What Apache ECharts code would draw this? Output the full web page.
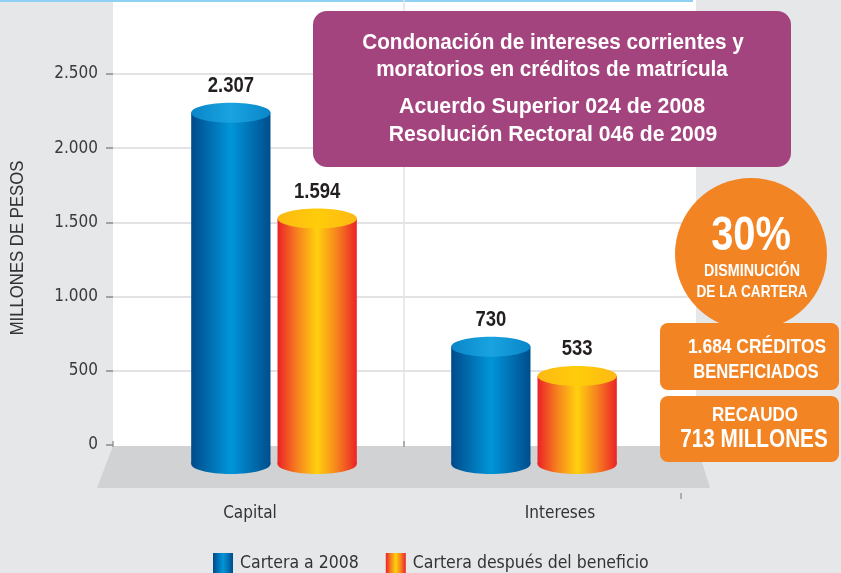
<!DOCTYPE html>
<html>
<head>
<meta charset="utf-8">
<script src="https://cdn.jsdelivr.net/npm/echarts@6/dist/echarts.min.js"></script>
<style>
  html, body { margin: 0; padding: 0; background: #e6e7e9; }
  #chart { width: 841px; height: 573px; }
</style>
</head>
<body>
<div id="chart"></div>
<script>
// Portfolio before and after the interest write-off (millions of pesos)
const categories = ['Capital', 'Intereses'];
const seriesNames = ['Cartera a 2008', 'Cartera después del beneficio'];
const cartera2008 = [2307, 730];
const carteraDespues = [1594, 533];
const yTicks = [0, 500, 1000, 1500, 2000, 2500];

const FONT = "'DejaVu Sans Condensed', 'Liberation Sans', sans-serif";
const HEAD = "'Liberation Sans', Arial, sans-serif";   // squeezed horizontally for a condensed look

function fmtMiles(v) {
  return String(v).replace(/\B(?=(\d{3})+(?!\d))/g, '.');
}

// condensed text element: bold/regular Liberation Sans narrowed with scaleX
function ctext(x, y, str, size, sx, bold, color, z) {
  return {
    type: 'text', x: x, y: y, scaleX: sx, z: z || 11,
    style: {
      text: str, x: 0, y: 0, align: 'center', verticalAlign: 'middle',
      font: (bold ? 'bold ' : '') + size + 'px ' + HEAD, fill: color || '#ffffff'
    }
  };
}

const blueSide = new echarts.graphic.LinearGradient(0, 0, 1, 0, [
  { offset: 0, color: '#004a8a' },
  { offset: 0.5, color: '#0096da' },
  { offset: 1, color: '#004d8d' }
]);
const blueTop = new echarts.graphic.LinearGradient(0, 0, 1, 0, [
  { offset: 0, color: '#0a86c8' },
  { offset: 0.5, color: '#19a3e0' },
  { offset: 1, color: '#0a86c8' }
]);
const warmSide = new echarts.graphic.LinearGradient(0, 0, 1, 0, [
  { offset: 0, color: '#ec2227' },
  { offset: 0.25, color: '#f6821f' },
  { offset: 0.5, color: '#ffd10d' },
  { offset: 0.75, color: '#f6821f' },
  { offset: 1, color: '#ec2227' }
]);
const warmTop = new echarts.graphic.LinearGradient(0, 0, 1, 0, [
  { offset: 0, color: '#fdb913' },
  { offset: 0.5, color: '#ffcc0a' },
  { offset: 1, color: '#fdb913' }
]);

// Cylinder drawn from the value scale: body from floor to value, ellipse cap on top
function cylinder(side, top, dir) {
  return function (params, api) {
    const idx = api.value(0);
    const val = api.value(1);
    const pTop = api.coord([idx, val]);
    const pZero = api.coord([idx, 0]);
    const band = api.size([1, 0])[0];
    const w = band * 0.305;
    const rx = w / 2;
    const ry = 10;
    const cx = pTop[0] + dir * band * 0.166;
    const yTopC = pTop[1] + ry;
    const yBotC = pZero[1] + 19;
    return {
      type: 'group',
      children: [
        { type: 'ellipse', shape: { cx: cx, cy: yBotC, rx: rx, ry: ry }, style: { fill: side } },
        { type: 'rect', shape: { x: cx - rx, y: yTopC, width: w, height: yBotC - yTopC }, style: { fill: side } },
        { type: 'ellipse', shape: { cx: cx, cy: yTopC, rx: rx, ry: ry }, style: { fill: top } },
        {
          type: 'text', x: cx, y: pTop[1] - 17, scaleX: 0.84,
          style: {
            text: fmtMiles(val), x: 0, y: 0,
            align: 'center', verticalAlign: 'middle',
            font: 'bold 22px ' + HEAD, fill: '#231f20'
          }
        }
      ]
    };
  };
}

const chart = echarts.init(document.getElementById('chart'), null, { renderer: 'canvas' });

const option = {
  backgroundColor: '#e6e7e9',
  animation: false,
  grid: [
    { left: 144, right: 177, top: 74, bottom: 128 },   // cylinders
    { left: 113, right: 145, top: 74, bottom: 128 },   // value axis + gridlines
    { left: 95, right: 126, top: 74, bottom: 128 }     // category labels on the floor front
  ],
  xAxis: [
    { gridIndex: 0, type: 'category', data: categories, show: false },
    { gridIndex: 1, type: 'category', data: categories, show: false },
    {
      gridIndex: 2, type: 'category', data: categories,
      axisLine: { show: false }, axisTick: { show: false },
      axisLabel: { margin: 60, fontSize: 17, color: '#333', fontFamily: FONT }
    }
  ],
  yAxis: [
    { gridIndex: 0, type: 'value', min: 0, max: 2500, interval: 500, show: false },
    {
      gridIndex: 1, type: 'value', min: 0, max: 2500, interval: 500,
      axisLine: { show: false },
      axisTick: { show: true, length: 7, lineStyle: { color: '#8a8a8a', width: 1.5 } },
      axisLabel: {
        margin: 15, fontSize: 17, color: '#3a3a3a', fontFamily: FONT,
        formatter: function (v) { return yTicks.indexOf(v) >= 0 ? fmtMiles(v) : ''; }
      },
      splitLine: { show: true, showMinLine: false, lineStyle: { color: '#e3e3e5', width: 2 } }
    },
    { gridIndex: 2, type: 'value', min: 0, max: 2500, interval: 500, show: false }
  ],
  legend: {
    left: 208, top: 548,
    itemWidth: 20, itemHeight: 20, itemGap: 27,
    icon: 'rect',
    textStyle: { fontSize: 17.5, color: '#333', fontFamily: FONT, padding: [0, 0, 0, 2] },
    data: seriesNames
  },
  series: [
    {
      name: seriesNames[0], type: 'custom', xAxisIndex: 0, yAxisIndex: 0,
      itemStyle: { color: blueSide },
      renderItem: cylinder(blueSide, blueTop, -1),
      data: categories.map(function (c, i) { return [i, cartera2008[i]]; }),
      z: 5
    },
    {
      name: seriesNames[1], type: 'custom', xAxisIndex: 0, yAxisIndex: 0,
      itemStyle: { color: warmSide },
      renderItem: cylinder(warmSide, warmTop, 1),
      data: categories.map(function (c, i) { return [i, carteraDespues[i]]; }),
      z: 5
    }
  ],
  graphic: [
    // plot backdrop, floor and divider
    { type: 'rect', z: -20, shape: { x: 113, y: 0, width: 583, height: 447 }, style: { fill: '#ffffff' }, silent: true },
    { type: 'rect', z: -19, shape: { x: 0, y: 0, width: 693, height: 2 }, style: { fill: '#8ed1f4' }, silent: true },
    { type: 'polygon', z: -19, shape: { points: [[113, 446], [697, 446], [710, 488], [97, 488]] }, style: { fill: '#d1d2d4' }, silent: true },
    { type: 'line', z: -18, shape: { x1: 404, y1: 0, x2: 404, y2: 446 }, style: { stroke: '#e3e3e5', lineWidth: 1.5 }, silent: true },
    { type: 'line', z: -18, shape: { x1: 113, y1: 441, x2: 113, y2: 447 }, style: { stroke: '#9a9a9a', lineWidth: 1.5 }, silent: true },
    { type: 'line', z: -18, shape: { x1: 404, y1: 441, x2: 404, y2: 447 }, style: { stroke: '#9a9a9a', lineWidth: 1.5 }, silent: true },
    { type: 'line', z: -18, shape: { x1: 681, y1: 493, x2: 681, y2: 499 }, style: { stroke: '#9a9a9a', lineWidth: 1.5 }, silent: true },
    {
      type: 'text', z: 10, x: 18, y: 248, rotation: Math.PI / 2, scaleX: 0.88,
      style: { text: 'MILLONES DE PESOS', x: 0, y: 0, align: 'center', verticalAlign: 'middle', font: '19px ' + HEAD, fill: '#333' }
    },
    // title panel
    { type: 'rect', z: 10, shape: { x: 313, y: 11, width: 478, height: 156, r: 14 }, style: { fill: '#a4447f' } },
    ctext(553, 43, 'Condonación de intereses corrientes y', 22, 0.94, true),
    ctext(552, 70, 'moratorios en créditos de matrícula', 22, 0.94, true),
    ctext(552, 107, 'Acuerdo Superior 024 de 2008', 22, 0.97, true),
    ctext(553, 135, 'Resolución Rectoral 046 de 2009', 22, 0.96, true),
    // highlights
    { type: 'circle', z: 10, shape: { cx: 751, cy: 254, r: 76 }, style: { fill: '#f38424' } },
    ctext(751, 237, '30%', 48, 0.83, true),
    ctext(752, 271, 'DISMINUCIÓN', 17, 0.84, true),
    ctext(752, 292, 'DE LA CARTERA', 17, 0.8, true),
    { type: 'rect', z: 12, shape: { x: 660, y: 323, width: 179, height: 67, r: 8 }, style: { fill: '#f38424' } },
    ctext(757, 347, '1.684 CRÉDITOS', 21, 0.83, true, '#fff', 13),
    ctext(756, 372, 'BENEFICIADOS', 21, 0.79, true, '#fff', 13),
    { type: 'rect', z: 12, shape: { x: 660, y: 396, width: 179, height: 66, r: 8 }, style: { fill: '#f38424' } },
    ctext(755, 415, 'RECAUDO', 21, 0.81, true, '#fff', 13),
    ctext(754, 440, '713 MILLONES', 25, 0.83, true, '#fff', 13)
  ]
};

chart.setOption(option);
</script>
</body>
</html>
